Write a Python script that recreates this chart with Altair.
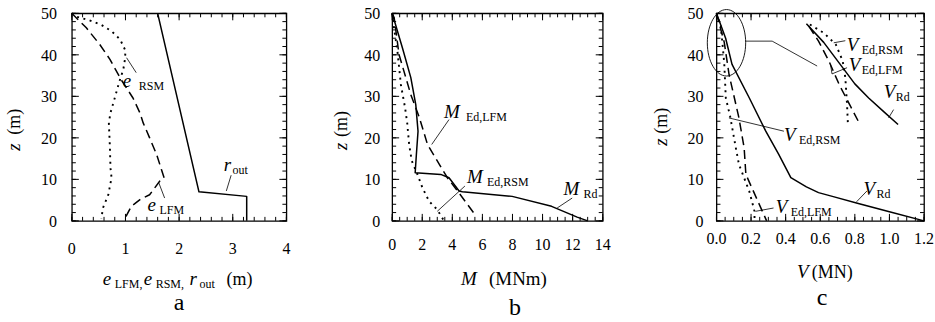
import altair as alt
import pandas as pd

FONT = "Liberation Serif"

# ---------------- data: panel a ----------------
a_rout_v = [1.6, 2.37, 3.26, 3.26]
a_rout_z = [50, 7.0, 5.9, 0]
a_elfm_v = [0.0, 0.03, 0.27, 0.52, 0.71, 0.92, 1.14, 1.27, 1.33, 1.45, 1.58, 1.67, 1.72, 1.64, 1.45, 1.27, 1.11, 1.01, 1.0]
a_elfm_z = [50, 49.6, 46.5, 42.5, 38.9, 34.0, 29.6, 26.0, 23.6, 20.0, 16.0, 12.4, 10.4, 9.6, 6.3, 5.1, 3.5, 1.1, 0]
a_ersm_v = [0.0, 0.06, 0.33, 0.55, 0.74, 0.90, 1.0, 0.99, 0.96, 0.88, 0.80, 0.72, 0.69, 0.71, 0.72, 0.74, 0.68, 0.58, 0.55]
a_ersm_z = [50, 49.3, 48.3, 47.2, 45.7, 43.7, 41.0, 38.9, 36.5, 33.3, 29.6, 26.0, 23.6, 17.6, 12.8, 10.4, 6.3, 3.1, 0.5]
a_lead_v = [1.02, 1.20, 1.62, 1.73, 2.97, 2.88]
a_lead_z = [39.3, 35.7, 9.2, 5.5, 11.0, 7.2]
a_lead_g = [0, 0, 1, 1, 2, 2]

# ---------------- data: panel b ----------------
b_rd_v = [0.0, 0.68, 1.24, 1.57, 1.72, 1.61, 1.53, 3.23, 3.78, 4.45, 4.67, 7.98, 10.6, 12.3, 13.0]
b_rd_z = [50, 41.7, 34.5, 28.0, 21.6, 16.0, 11.6, 11.2, 10.4, 7.2, 7.0, 5.9, 3.5, 0.9, 0]
b_lfm_v = [0.0, 0.13, 0.46, 0.91, 1.24, 1.8, 2.35, 3.67, 4.45, 5.55]
b_lfm_z = [50, 49, 40, 34.5, 30.4, 25, 18.4, 10.4, 6.7, 1.3]
b_rsm_v = [0.0, 0.09, 0.35, 0.58, 0.86, 1.0, 1.13, 1.3, 1.68, 2.01, 2.46, 3.0, 3.45]
b_rsm_z = [50, 47.3, 40.9, 32.8, 27.2, 23.6, 18.4, 14.5, 11.2, 8.0, 4.7, 2.7, 0]
b_lead_v = [3.78, 2.63, 4.84, 3.0, 11.97, 10.97]
b_lead_z = [24.4, 18.4, 8.4, 2.3, 5.5, 3.1]
b_lead_g = [0, 0, 1, 1, 2, 2]

# ---------------- data: panel c ----------------
c_rd_v = [0.0, 0.053, 0.09, 0.19, 0.285, 0.36, 0.43, 0.52, 0.59, 0.67, 0.82, 1.0, 1.2]
c_rd_z = [50, 44, 37.7, 29.6, 21.6, 16.0, 10.4, 8.2, 6.8, 5.9, 4.2, 2.2, 0]
c_lfm_v = [0.0, 0.045, 0.073, 0.13, 0.16, 0.17, 0.23, 0.29]
c_lfm_z = [50, 43, 35.2, 24.8, 17.6, 11.2, 5.6, 0]
c_rsm_v = [0.0, 0.025, 0.045, 0.054, 0.08, 0.11, 0.13, 0.19, 0.22, 0.22]
c_rsm_z = [50, 47, 38, 29.6, 25, 18, 13.6, 7.1, 2.3, 0]
# magnified inset (top right of panel c)
ci_rd_v = [0.52, 0.62, 0.71, 0.80, 0.88, 0.97, 1.05]
ci_rd_z = [47.5, 43, 38, 33, 29.6, 26.2, 23.2]
ci_lfm_v = [0.534, 0.59, 0.65, 0.71, 0.77, 0.83]
ci_lfm_z = [46.9, 43.3, 38.5, 32.8, 28, 23.2]
ci_rsm_v = [0.54, 0.62, 0.69, 0.73, 0.745, 0.755, 0.76]
ci_rsm_z = [47.3, 45.3, 42.5, 38.5, 34.5, 28, 23.2]
c_ell_v = [0.058]
c_ell_z = [42.9]
c_lead_v = [0.168, 0.322, 0.582, 0.39, 0.072, 0.33, 0.226, 0.87, 0.81, 0.745, 0.678, 0.659, 0.668, 0.755, 1.024, 0.995]
c_lead_z = [43.3, 43.3, 37.3, 21.6, 24.8, 3.1, 2.3, 7.2, 4.6, 43.4, 42.9, 37.8, 35.4, 36.9, 26.8, 24.8]
c_lead_g = [0, 0, 0, 1, 1, 2, 2, 3, 3, 4, 4, 5, 5, 5, 6, 6]

# ticks and tick labels
y_major = [0, 10, 20, 30, 40, 50]
y_minor = list(range(0, 51, 2))
y_labels = ["0", "10", "20", "30", "40", "50"]
a_major = [0, 1, 2, 3, 4]
a_labels = ["0", "1", "2", "3", "4"]
a_minor = [round(i * 0.2, 2) for i in range(21)]
b_major = [0, 2, 4, 6, 8, 10, 12, 14]
b_labels = ["0", "2", "4", "6", "8", "10", "12", "14"]
b_minor = [i * 0.5 for i in range(29)]
c_major = [0.0, 0.2, 0.4, 0.6, 0.8, 1.0, 1.2]
c_labels = ["0.0", "0.2", "0.4", "0.6", "0.8", "1.0", "1.2"]
c_minor = [round(i * 0.05, 3) for i in range(25)]

HEIGHT = 208
MAJ, MIN = 7, 4  # tick lengths in pixels
# tick glyphs: a segment from the anchor point into the plot
TICK_UP, TICK_DOWN = "M0,0L0,-1", "M0,0L0,1"
TICK_RIGHT, TICK_LEFT = "M0,0L1,0", "M0,0L-1,0"


def df_line(vs, zs, gs=None):
    d = pd.DataFrame({"v": vs, "z": zs, "i": list(range(len(vs)))})
    d["g"] = gs if gs is not None else 0
    return d


def tick_points(xdom, xmaj, xmin):
    """Inward mirror ticks on the four sides: anchor point, glyph, glyph size."""
    x0, x1 = xdom
    rows = []
    for vals, L in ((xmin, MIN), (xmaj, MAJ)):
        s = (2 * L) ** 2
        for t in vals:
            rows.append((float(t), 0.0, TICK_UP, s))
            rows.append((float(t), 50.0, TICK_DOWN, s))
    for vals, L in ((y_minor, MIN), (y_major, MAJ)):
        s = (2 * L) ** 2
        for t in vals:
            rows.append((float(x0), float(t), TICK_RIGHT, s))
            rows.append((float(x1), float(t), TICK_LEFT, s))
    return pd.DataFrame(rows, columns=["v", "z", "shp", "sz"])


def panel(width, xdom, xmaj, xlab, xmin, xdy, ydx, lines, points, texts):
    xs = alt.Scale(domain=xdom, nice=False, zero=False)
    ys = alt.Scale(domain=[0, 50], nice=False, zero=False)
    X = lambda f: alt.X(f, scale=xs, axis=None)
    Y = lambda f: alt.Y(f, scale=ys, axis=None)
    layers = []
    # inward ticks
    tp = tick_points(xdom, xmaj, xmin)
    layers.append(
        alt.Chart(tp).mark_point(filled=False, stroke="black", strokeWidth=1, opacity=1).encode(
            x=X("v:Q"), y=Y("z:Q"),
            shape=alt.Shape("shp:N", scale=None),
            size=alt.Size("sz:Q", scale=None),
        )
    )
    for d, dash, w in lines:
        mk = dict(color="black", strokeWidth=w, strokeCap="butt", strokeJoin="round")
        if dash:
            mk["strokeDash"] = dash
        layers.append(
            alt.Chart(d).mark_line(**mk).encode(
                x=X("v:Q"), y=Y("z:Q"), order=alt.Order("i:Q"), detail="g:N")
        )
    for d, shape, size in points:
        layers.append(
            alt.Chart(d).mark_point(shape=shape, size=size, filled=False,
                                    stroke="black", strokeWidth=0.9, opacity=1).encode(
                x=X("v:Q"), y=Y("z:Q"))
        )
    # tick labels
    xl = pd.DataFrame({"v": xmaj, "z": [0] * len(xmaj), "t": xlab})
    layers.append(
        alt.Chart(xl).mark_text(font=FONT, fontSize=16, color="black", align="center",
                                baseline="alphabetic", dy=xdy).encode(
            x=X("v:Q"), y=Y("z:Q"), text="t:N")
    )
    yl = pd.DataFrame({"v": [xdom[0]] * len(y_major), "z": y_major, "t": y_labels})
    layers.append(
        alt.Chart(yl).mark_text(font=FONT, fontSize=16, color="black", align="right",
                                baseline="alphabetic", dx=-ydx, dy=6).encode(
            x=X("v:Q"), y=Y("z:Q"), text="t:N")
    )
    for (v, z, parts) in texts:
        for p in parts:
            t, dx, dy, size, italic = p[:5]
            angle = p[5] if len(p) > 5 else 0
            align = p[6] if len(p) > 6 else "left"
            d = pd.DataFrame({"v": [v], "z": [z], "t": [t]})
            mk = dict(font=FONT, fontSize=size, fontStyle="italic" if italic else "normal",
                      align=align, baseline="alphabetic", color="black")
            if dx:
                mk["dx"] = dx
            if dy:
                mk["dy"] = dy
            if angle:
                mk["angle"] = angle
            layers.append(
                alt.Chart(d).mark_text(**mk).encode(x=X("v:Q"), y=Y("z:Q"), text="t:N")
            )
    return alt.layer(*layers).properties(width=width, height=HEIGHT)


DASH = [9, 5]
DOT = [2, 4.5]

pa = panel(
    215, [0, 4], a_major, a_labels, a_minor, 33, 15,
    lines=[
        (df_line(a_rout_v, a_rout_z), None, 1.5),
        (df_line(a_elfm_v, a_elfm_z), DASH, 1.5),
        (df_line(a_ersm_v, a_ersm_z), DOT, 1.9),
        (df_line(a_lead_v, a_lead_z, a_lead_g), None, 0.8),
    ],
    points=[],
    texts=[
        (0.95, 32.3, [("e", 0, 0, 19, True), ("RSM", 16, 3, 12, False)]),
        (1.41, 2.4, [("e", 0, 0, 19, True), ("LFM", 12, 3, 12, False)]),
        (2.83, 12.0, [("r", 0, 0, 19, True), ("out", 9, 3, 12, False)]),
        (0.577, -15.4, [("e", 0, 0, 19, True), ("LFM,", 12, 3, 12, False),
                        ("e", 41, 0, 19, True), ("RSM,", 53, 3, 12, False),
                        ("r", 87, 0, 19, True), ("out", 97, 3, 12, False),
                        ("(m)", 124, 0, 18, False)]),
        (-0.967, 16.9, [("z", 0, 0, 19, True, 270), ("(m)", 16, 0, 18, False, 270)]),
        (2.0, -21.4, [("a", 0, 0, 24, False, 0, "center")]),
    ],
)

pb = panel(
    211, [0, 14], b_major, b_labels, b_minor, 29, 12,
    lines=[
        (df_line(b_rd_v, b_rd_z), None, 1.5),
        (df_line(b_lfm_v, b_lfm_z), DASH, 1.5),
        (df_line(b_rsm_v, b_rsm_z), DOT, 1.9),
        (df_line(b_lead_v, b_lead_z, b_lead_g), None, 0.8),
    ],
    points=[],
    texts=[
        (3.45, 24.8, [("M", 0, 0, 19, True), ("Ed,LFM", 22, 3, 12, False)]),
        (4.98, 9.2, [("M", 0, 0, 19, True), ("Ed,RSM", 20, 3, 12, False)]),
        (11.4, 6.3, [("M", 0, 0, 19, True), ("Rd", 20, 3, 12, False)]),
        (4.58, -15.4, [("M", 0, 0, 19, True), ("(MNm)", 28, 0, 19, False)]),
        (-2.99, 17.1, [("z", 0, 0, 19, True, 270), ("(m)", 13, 0, 18, False, 270)]),
        (8.16, -22.6, [("b", 0, 0, 24, False, 0, "center")]),
    ],
)

ELLIPSE = "M0,-1A0.577,1,0,0,1,0,1A0.577,1,0,0,1,0,-1Z"

pc = panel(
    208, [0, 1.2], c_major, c_labels, c_minor, 23, 13,
    lines=[
        (df_line(c_rd_v, c_rd_z), None, 1.5),
        (df_line(c_lfm_v, c_lfm_z), DASH, 1.5),
        (df_line(c_rsm_v, c_rsm_z), DOT, 1.9),
        (df_line(c_lead_v, c_lead_z, c_lead_g), None, 0.8),
        (df_line(ci_rd_v, ci_rd_z), None, 1.5),
        (df_line(ci_lfm_v, ci_lfm_z), DASH, 1.5),
        (df_line(ci_rsm_v, ci_rsm_z), DOT, 1.9),
    ],
    points=[(df_line(c_ell_v, c_ell_z), ELLIPSE, 4436)],
    texts=[
        (0.39, 19.2, [("V", 0, 0, 19, True), ("Ed,RSM", 15, 3, 12, False)]),
        (0.343, 1.9, [("V", 0, 0, 19, True), ("Ed,LFM", 15, 3, 12, False)]),
        (0.85, 6.3, [("V", 0, 0, 19, True), ("Rd", 13, 3, 12, False)]),
        (0.753, 40.9, [("V", 0, 0, 19, True), ("Ed,RSM", 15, 3, 12, False)]),
        (0.765, 36.1, [("V", 0, 0, 19, True), ("Ed,LFM", 13, 3, 12, False)]),
        (0.967, 29.6, [("V", 0, 0, 19, True), ("Rd", 12, 3, 12, False)]),
        (0.465, -13.7, [("V", 0, 0, 19, True), ("(MN)", 15, 0, 18, False)]),
        (-0.286, 18.1, [("z", 0, 0, 19, True, 270), ("(m)", 12, 0, 18, False, 270)]),
        (0.61, -20.2, [("c", 0, 0, 24, False, 0, "center")]),
    ],
)

chart = alt.hconcat(
    pa,
    alt.hconcat(pb, pc, spacing=114, bounds="flush"),
    spacing=106,
    bounds="flush",
).properties(
    padding={"left": 4, "top": 5, "right": 0, "bottom": 0},
    background="white",
).configure_view(stroke="black", strokeWidth=1.3)

chart.save("out.html", embed_options={"renderer": "svg", "actions": False})
